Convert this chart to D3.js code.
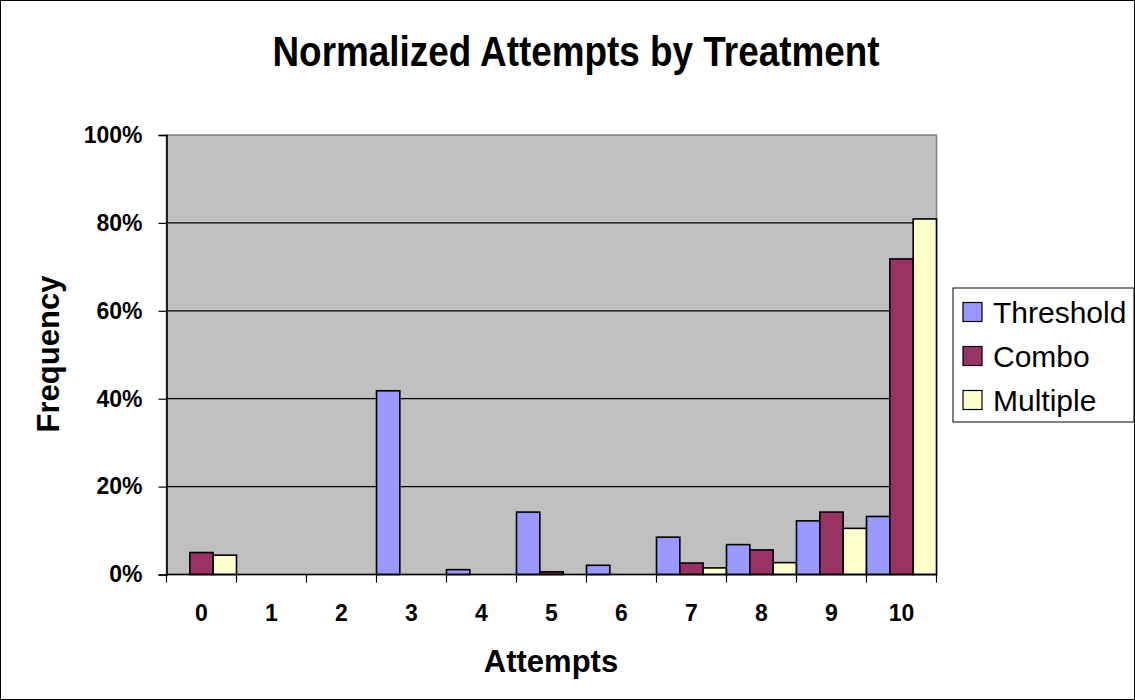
<!DOCTYPE html>
<html>
<head>
<meta charset="utf-8">
<script src="https://cdn.jsdelivr.net/npm/d3@7"></script>
<style>
  html, body { margin: 0; padding: 0; background: #fff; }
  svg { display: block; font-family: Arial, "Liberation Sans", sans-serif; }
</style>
</head>
<body>
<svg id="chart" width="1135" height="700"></svg>
<script>
// Attempt counts along the x axis
const attempts = ["0", "1", "2", "3", "4", "5", "6", "7", "8", "9", "10"];
const seriesNames = ["Threshold", "Combo", "Multiple"];
const seriesColors = ["#9999FF", "#993366", "#FFFFCC"];

// Share of runs per attempt count, one array per treatment
const threshold = [0, 0, 0, 0.418, 0.011, 0.142, 0.021, 0.085, 0.068, 0.122, 0.132];
const combo     = [0.050, 0, 0, 0, 0, 0.006, 0, 0.026, 0.056, 0.142, 0.718];
const multiple  = [0.044, 0, 0, 0, 0, 0, 0, 0.015, 0.027, 0.105, 0.809];

const yTicks = [0, 0.2, 0.4, 0.6, 0.8, 1.0];

const seriesValues = [threshold, combo, multiple];
const rows = attempts.map((a, i) => ({
  attempt: a,
  values: seriesNames.map((s, k) => ({ series: s, value: seriesValues[k][i], color: seriesColors[k] }))
}));

const svg = d3.select("#chart");
const W = 1135, H = 700;
const plot = { left: 166.5, right: 936.5, top: 135, bottom: 574.5 };

// Chart area border
svg.append("rect")
  .attr("x", 0.5).attr("y", 0.5)
  .attr("width", W - 1).attr("height", H - 1)
  .attr("fill", "#fff").attr("stroke", "#000").attr("stroke-width", 1);

const x = d3.scaleBand().domain(attempts).range([plot.left, plot.right]).padding(0);
const xSub = d3.scaleBand().domain(seriesNames).range([0, x.bandwidth()]).padding(0);
const y = d3.scaleLinear().domain([0, 1]).range([plot.bottom, plot.top]);

// Plot area background
svg.append("rect")
  .attr("x", plot.left).attr("y", plot.top)
  .attr("width", plot.right - plot.left).attr("height", plot.bottom - plot.top)
  .attr("fill", "#C0C0C0").attr("stroke", "#808080").attr("stroke-width", 1.5);

// Horizontal gridlines
svg.append("g")
  .selectAll("line")
  .data(yTicks.filter(t => t > 0 && t < 1))
  .join("line")
  .attr("x1", plot.left).attr("x2", plot.right)
  .attr("y1", d => y(d)).attr("y2", d => y(d))
  .attr("stroke", "#000").attr("stroke-width", 1.2);

// Bars
const groups = svg.append("g")
  .selectAll("g")
  .data(rows)
  .join("g")
  .attr("transform", d => `translate(${x(d.attempt)},0)`);

groups.selectAll("rect")
  .data(d => d.values.filter(v => v.value > 0))
  .join("rect")
  .attr("x", d => xSub(d.series))
  .attr("width", xSub.bandwidth())
  .attr("y", d => y(d.value))
  .attr("height", d => y(0) - y(d.value))
  .attr("fill", d => d.color)
  .attr("stroke", "#000")
  .attr("stroke-width", 1.6);

// Y axis
const yAxis = svg.append("g")
  .attr("transform", `translate(${plot.left},0)`)
  .call(d3.axisLeft(y).tickValues(yTicks).tickFormat(d3.format(".0%")).tickSize(8).tickPadding(16));
yAxis.select(".domain").attr("stroke", "#000").attr("stroke-width", 1.6);
yAxis.selectAll(".tick line").attr("stroke", "#000").attr("stroke-width", 1.2);
yAxis.selectAll("text")
  .attr("font-size", 23).attr("font-weight", "bold").attr("fill", "#000")
  .attr("font-family", "Arial, 'Liberation Sans', sans-serif");

// X axis: ticks at category boundaries
const xAxisG = svg.append("g").attr("transform", `translate(0,${plot.bottom})`);
xAxisG.append("line")
  .attr("x1", plot.left).attr("x2", plot.right)
  .attr("stroke", "#000").attr("stroke-width", 1.6);
const boundaries = attempts.map(a => x(a)).concat([x(attempts[attempts.length - 1]) + x.bandwidth()]);
xAxisG.selectAll("line.tick")
  .data(boundaries)
  .join("line")
  .attr("class", "tick")
  .attr("x1", d => d).attr("x2", d => d)
  .attr("y1", 0).attr("y2", 8)
  .attr("stroke", "#000").attr("stroke-width", 1.2);
xAxisG.selectAll("text")
  .data(attempts)
  .join("text")
  .attr("x", d => x(d) + x.bandwidth() / 2)
  .attr("y", 46)
  .attr("text-anchor", "middle")
  .attr("font-size", 23).attr("font-weight", "bold").attr("fill", "#000")
  .text(d => d);

// Title
svg.append("text")
  .attr("x", 576).attr("y", 66)
  .attr("text-anchor", "middle")
  .attr("font-size", 42).attr("font-weight", "bold")
  .attr("textLength", 607).attr("lengthAdjust", "spacingAndGlyphs")
  .text("Normalized Attempts by Treatment");

// Axis titles
svg.append("text")
  .attr("x", 551).attr("y", 672)
  .attr("text-anchor", "middle")
  .attr("font-size", 31).attr("font-weight", "bold")
  .text("Attempts");

svg.append("text")
  .attr("transform", "translate(59,354) rotate(-90)")
  .attr("text-anchor", "middle")
  .attr("font-size", 31).attr("font-weight", "bold")
  .text("Frequency");

// Legend
const legend = svg.append("g");
legend.append("rect")
  .attr("x", 953).attr("y", 288)
  .attr("width", 181).attr("height", 134)
  .attr("fill", "#fff").attr("stroke", "#000").attr("stroke-width", 1);
const items = legend.selectAll("g.item")
  .data(seriesNames)
  .join("g")
  .attr("class", "item")
  .attr("transform", (d, i) => `translate(963,${312 + i * 44})`);
items.append("rect")
  .attr("x", 0).attr("y", -9.5)
  .attr("width", 19).attr("height", 19)
  .attr("fill", (d, i) => seriesColors[i])
  .attr("stroke", "#000").attr("stroke-width", 1.2);
items.append("text")
  .attr("x", 30).attr("y", 11)
  .attr("font-size", 30)
  .text(d => d);
</script>
</body>
</html>
